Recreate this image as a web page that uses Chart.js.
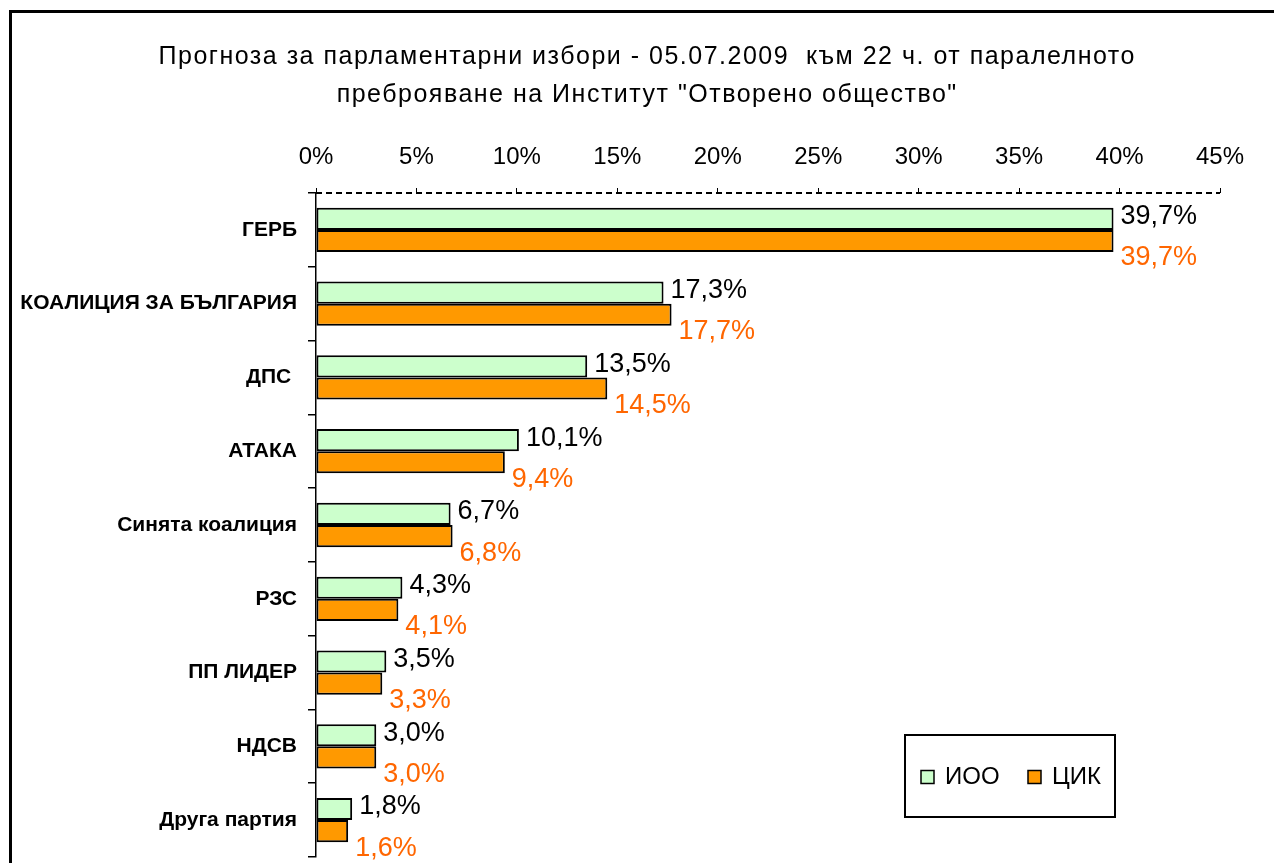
<!DOCTYPE html>
<html>
<head>
<meta charset="utf-8">
<script src="https://cdn.jsdelivr.net/npm/chart.js@4.4.1/dist/chart.umd.min.js"></script>
<style>
  html, body { margin: 0; padding: 0; background: #ffffff; }
  #wrap { width: 1274px; height: 863px; position: relative; }
</style>
</head>
<body>
<div id="wrap"><canvas id="c" width="1274" height="863"></canvas></div>
<script>
const categories = ["ГЕРБ", "КОАЛИЦИЯ ЗА БЪЛГАРИЯ", "ДПС ", "АТАКА", "Синята коалиция", "РЗС", "ПП ЛИДЕР", "НДСВ", "Друга партия"];
const iooValues = [39.7, 17.3, 13.5, 10.1, 6.7, 4.3, 3.5, 3.0, 1.8];
const cikValues = [39.7, 17.7, 14.5, 9.4, 6.8, 4.1, 3.3, 3.0, 1.6];
const seriesNames = ["ИОО", "ЦИК"];
const titleLines = ["Прогноза за парламентарни избори - 05.07.2009  към 22 ч. от паралелното", "преброяване на Институт \"Отворено общество\""];
const axisMin = 0, axisMax = 45, axisStep = 5;

const FONT = "'Liberation Sans', Arial, sans-serif";

function fmt(v) { return v.toFixed(1).replace('.', ',') + '%'; }

const framePlugin = {
  id: 'frame',
  beforeDraw(chart) {
    const ctx = chart.ctx;
    ctx.save();
    ctx.fillStyle = '#ffffff';
    ctx.fillRect(0, 0, chart.width, chart.height);
    ctx.strokeStyle = '#000000';
    ctx.lineWidth = 3;
    ctx.beginPath();
    ctx.moveTo(10.5, chart.height);
    ctx.lineTo(10.5, 11.5);
    ctx.lineTo(chart.width, 11.5);
    ctx.stroke();
    ctx.restore();
  }
};

const dashedAxisPlugin = {
  id: 'dashedAxis',
  afterDraw(chart) {
    const ctx = chart.ctx;
    const a = chart.chartArea;
    ctx.save();
    ctx.strokeStyle = '#000000';
    ctx.lineWidth = 2;
    ctx.setLineDash([6, 4]);
    ctx.beginPath();
    ctx.moveTo(a.left, a.top);
    ctx.lineTo(a.right, a.top);
    ctx.stroke();
    ctx.restore();
  }
};

const titlePlugin = {
  id: 'spacedTitle',
  afterDraw(chart) {
    const ctx = chart.ctx;
    ctx.save();
    ctx.font = '25px ' + FONT;
    ctx.fillStyle = '#000000';
    ctx.textAlign = 'center';
    ctx.textBaseline = 'middle';
    if ('letterSpacing' in ctx) ctx.letterSpacing = '1.5px';
    const cx = chart.width * 0.508;
    titleLines.forEach((line, i) => {
      ctx.fillText(line, cx, 57 + i * 38);
    });
    ctx.restore();
  }
};

const labelPlugin = {
  id: 'barLabels',
  afterDatasetsDraw(chart) {
    const ctx = chart.ctx;
    ctx.save();
    ctx.font = '27px ' + FONT;
    ctx.textAlign = 'left';
    ctx.textBaseline = 'middle';
    chart.data.datasets.forEach((ds, di) => {
      const meta = chart.getDatasetMeta(di);
      meta.data.forEach((bar, i) => {
        const v = ds.data[i];
        ctx.fillStyle = di === 0 ? '#000000' : '#ff6600';
        const dy = di === 0 ? -2 : 17;
        ctx.fillText(fmt(v), bar.x + 7, bar.y + dy);
      });
    });
    ctx.restore();
  }
};

const legendPlugin = {
  id: 'boxLegend',
  afterDraw(chart) {
    const ctx = chart.ctx;
    const a = chart.chartArea;
    const bx = a.right - 315, by = a.bottom - 122, bw = 210, bh = 82;
    ctx.save();
    ctx.fillStyle = '#ffffff';
    ctx.fillRect(bx, by, bw, bh);
    ctx.strokeStyle = '#000000';
    ctx.lineWidth = 2;
    ctx.strokeRect(bx, by, bw, bh);
    ctx.font = '24px ' + FONT;
    ctx.textBaseline = 'middle';
    ctx.textAlign = 'left';
    let x = bx + 16;
    const cy = by + 42;
    chart.data.datasets.forEach((ds) => {
      ctx.fillStyle = ds.backgroundColor;
      ctx.fillRect(x, cy - 6.5, 13, 13);
      ctx.lineWidth = 1.5;
      ctx.strokeRect(x, cy - 6.5, 13, 13);
      ctx.fillStyle = '#000000';
      ctx.fillText(ds.label, x + 24, cy);
      x += 107;
    });
    ctx.restore();
  }
};

new Chart(document.getElementById('c'), {
  type: 'bar',
  data: {
    labels: categories,
    datasets: [
      { label: seriesNames[0], data: iooValues, backgroundColor: '#ccffcc', borderColor: '#000000', borderWidth: 2, borderSkipped: false, categoryPercentage: 0.6, barPercentage: 1.0 },
      { label: seriesNames[1], data: cikValues, backgroundColor: '#ff9900', borderColor: '#000000', borderWidth: 2, borderSkipped: false, categoryPercentage: 0.6, barPercentage: 1.0 }
    ]
  },
  options: {
    indexAxis: 'y',
    responsive: false,
    animation: false,
    devicePixelRatio: 1,
    layout: { padding: { left: 0, right: 54, top: 116, bottom: 6 } },
    plugins: {
      legend: { display: false },
      tooltip: { enabled: false },
      title: { display: false }
    },
    scales: {
      x: {
        position: 'top',
        min: axisMin,
        max: axisMax,
        afterFit(scale) { scale.height = 77; scale.paddingTop = 0; scale.paddingBottom = 0; },
        ticks: {
          stepSize: axisStep,
          color: '#000000',
          font: { family: FONT, size: 24 },
          padding: 16,
          callback: (v) => v + '%'
        },
        grid: { display: true, drawOnChartArea: false, drawTicks: true, tickLength: 5, color: '#000000', lineWidth: 1 },
        border: { display: false }
      },
      y: {
        afterFit(scale) { scale.width = 316; scale.paddingTop = 0; scale.paddingBottom = 0; },
        ticks: {
          color: '#000000',
          font: { family: FONT, size: 21, weight: 'bold' },
          padding: 11
        },
        grid: { display: true, drawOnChartArea: false, drawTicks: true, tickLength: 8, color: '#000000', lineWidth: 1.5, offset: true },
        border: { display: true, color: '#000000', width: 1.5 }
      }
    }
  },
  plugins: [framePlugin, dashedAxisPlugin, titlePlugin, labelPlugin, legendPlugin]
});
</script>
</body>
</html>
